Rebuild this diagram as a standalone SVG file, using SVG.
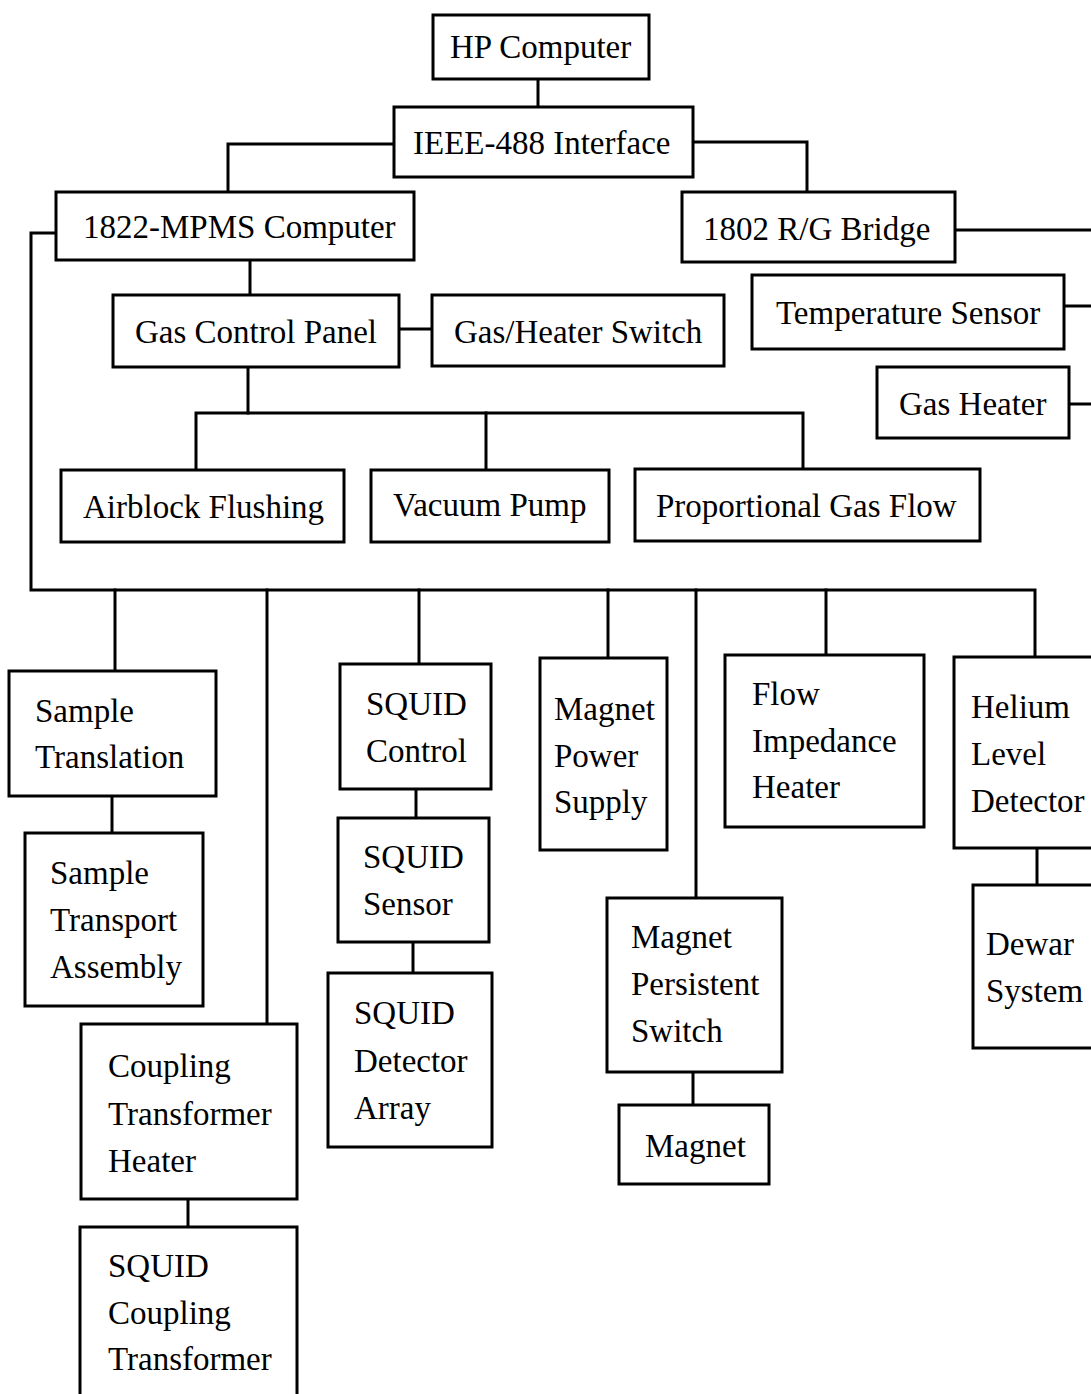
<svg xmlns="http://www.w3.org/2000/svg" width="1091" height="1394" viewBox="0 0 1091 1394">
<style>
.box{fill:#fff;stroke:#000;stroke-width:3}
.ln{fill:none;stroke:#000;stroke-width:3;stroke-linecap:square}
text{font-family:"Liberation Serif","Times New Roman",serif;font-size:33px;fill:#000}
</style>
<rect width="1091" height="1394" fill="#fff"/>
<g id="connectors">
<path class="ln" d="M538,79 V107"/>
<path class="ln" d="M394,144 H228 V192"/>
<path class="ln" d="M693,142 H807 V192"/>
<path class="ln" d="M955,230 H1093"/>
<path class="ln" d="M1064,306 H1093"/>
<path class="ln" d="M1069,404 H1093"/>
<path class="ln" d="M250,260 V295"/>
<path class="ln" d="M399,329 H432"/>
<path class="ln" d="M248,367 V413"/>
<path class="ln" d="M196,470 V413 H803 V469"/>
<path class="ln" d="M486,413 V470"/>
<path class="ln" d="M56,233 H31 V590 H1035 V657"/>
<path class="ln" d="M115,590 V671"/>
<path class="ln" d="M267,590 V1024"/>
<path class="ln" d="M419,590 V664"/>
<path class="ln" d="M608,590 V658"/>
<path class="ln" d="M696,590 V898"/>
<path class="ln" d="M826,590 V655"/>
<path class="ln" d="M112,796 V833"/>
<path class="ln" d="M188,1199 V1227"/>
<path class="ln" d="M416,789 V818"/>
<path class="ln" d="M413,942 V973"/>
<path class="ln" d="M693,1072 V1105"/>
<path class="ln" d="M1037,848 V885"/>
</g>
<g id="hp-computer"><rect class="box" x="433" y="15" width="216" height="64"/><text x="450" y="58">HP Computer</text></g>
<g id="ieee-488"><rect class="box" x="394" y="107" width="299" height="70"/><text x="413" y="154">IEEE-488 Interface</text></g>
<g id="mpms-computer"><rect class="box" x="56" y="192" width="358" height="68"/><text x="83" y="238">1822-MPMS Computer</text></g>
<g id="rg-bridge"><rect class="box" x="682" y="192" width="273" height="70"/><text x="703" y="240">1802 R/G Bridge</text></g>
<g id="temperature-sensor"><rect class="box" x="752" y="275" width="312" height="74"/><text x="776" y="324">Temperature Sensor</text></g>
<g id="gas-heater"><rect class="box" x="877" y="367" width="192" height="71"/><text x="899" y="415">Gas Heater</text></g>
<g id="gas-control-panel"><rect class="box" x="113" y="295" width="286" height="72"/><text x="135" y="343">Gas Control Panel</text></g>
<g id="gas-heater-switch"><rect class="box" x="432" y="295" width="292" height="71"/><text x="454" y="343">Gas/Heater Switch</text></g>
<g id="airblock-flushing"><rect class="box" x="61" y="470" width="283" height="72"/><text x="83" y="518">Airblock Flushing</text></g>
<g id="vacuum-pump"><rect class="box" x="371" y="470" width="238" height="72"/><text x="393" y="516">Vacuum Pump</text></g>
<g id="proportional-gas-flow"><rect class="box" x="635" y="469" width="345" height="72"/><text x="656" y="517">Proportional Gas Flow</text></g>
<g id="sample-translation"><rect class="box" x="9" y="671" width="207" height="125"/><text x="35" y="722">Sample</text><text x="35" y="768">Translation</text></g>
<g id="sample-transport"><rect class="box" x="25" y="833" width="178" height="173"/><text x="50" y="884">Sample</text><text x="50" y="931">Transport</text><text x="50" y="978">Assembly</text></g>
<g id="coupling-transformer-heater"><rect class="box" x="81" y="1024" width="216" height="175"/><text x="108" y="1077">Coupling</text><text x="108" y="1125">Transformer</text><text x="108" y="1172">Heater</text></g>
<g id="squid-coupling-transformer"><rect class="box" x="80" y="1227" width="217" height="180"/><text x="108" y="1277">SQUID</text><text x="108" y="1324">Coupling</text><text x="108" y="1370">Transformer</text></g>
<g id="squid-control"><rect class="box" x="340" y="664" width="151" height="125"/><text x="366" y="715">SQUID</text><text x="366" y="762">Control</text></g>
<g id="squid-sensor"><rect class="box" x="338" y="818" width="151" height="124"/><text x="363" y="868">SQUID</text><text x="363" y="915">Sensor</text></g>
<g id="squid-detector-array"><rect class="box" x="328" y="973" width="164" height="174"/><text x="354" y="1024">SQUID</text><text x="354" y="1072">Detector</text><text x="354" y="1119">Array</text></g>
<g id="magnet-power-supply"><rect class="box" x="540" y="658" width="127" height="192"/><text x="554" y="720">Magnet</text><text x="554" y="767">Power</text><text x="554" y="813">Supply</text></g>
<g id="magnet-persistent-switch"><rect class="box" x="607" y="898" width="175" height="174"/><text x="631" y="948">Magnet</text><text x="631" y="995">Persistent</text><text x="631" y="1042">Switch</text></g>
<g id="magnet"><rect class="box" x="619" y="1105" width="150" height="79"/><text x="645" y="1157">Magnet</text></g>
<g id="flow-impedance-heater"><rect class="box" x="725" y="655" width="199" height="172"/><text x="752" y="705">Flow</text><text x="752" y="752">Impedance</text><text x="752" y="798">Heater</text></g>
<g id="helium-level-detector"><rect class="box" x="954" y="657" width="145" height="191"/><text x="971" y="718">Helium</text><text x="971" y="765">Level</text><text x="971" y="812">Detector</text></g>
<g id="dewar-system"><rect class="box" x="973" y="885" width="126" height="163"/><text x="986" y="955">Dewar</text><text x="986" y="1002">System</text></g>
</svg>
